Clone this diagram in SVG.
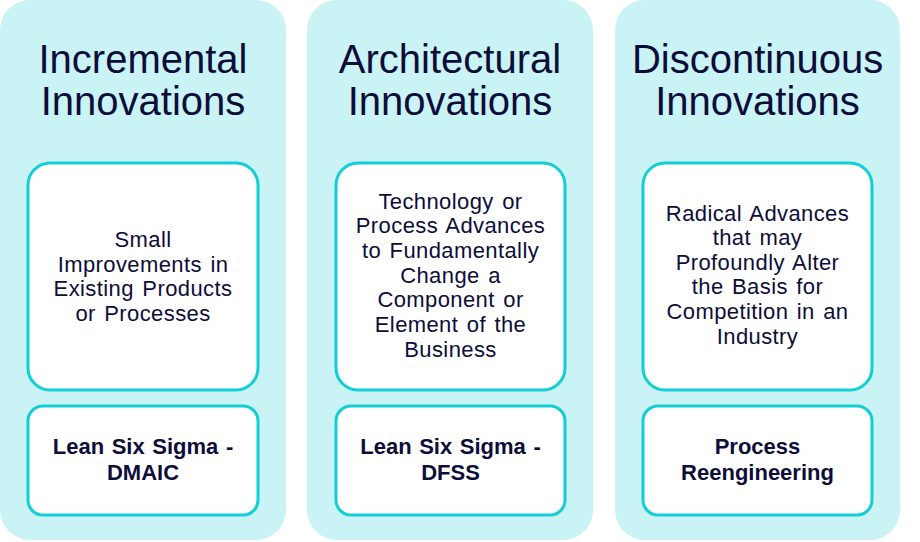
<svg xmlns="http://www.w3.org/2000/svg" width="920" height="542" viewBox="0 0 920 542">
<style>
.panel{fill:#c9f3f5;}
.box{fill:#ffffff;stroke:#12cfd7;stroke-width:3;}
.title{font-family:"Liberation Sans",Arial,sans-serif;font-size:40px;fill:#0d0d3a;text-anchor:middle;}
.body{font-family:"Liberation Sans",Arial,sans-serif;font-size:22px;fill:#0d0d3a;text-anchor:middle;letter-spacing:0.4px;word-spacing:2px;}
.bold{font-family:"Liberation Sans",Arial,sans-serif;font-size:22px;font-weight:bold;fill:#0d0d3a;text-anchor:middle;word-spacing:1.5px;}
</style>
<rect width="920" height="542" fill="#ffffff"/>
<g id="incremental">
<rect class="panel" x="0" y="0" width="286" height="540" rx="30"/>
<text class="title" x="143" y="73">Incremental</text>
<text class="title" x="143" y="115">Innovations</text>
<rect class="box" x="28" y="163" width="230" height="227" rx="22"/>
<text class="body" x="143" y="247">Small</text>
<text class="body" x="143" y="271.5">Improvements in</text>
<text class="body" x="143" y="296">Existing Products</text>
<text class="body" x="143" y="320.5">or Processes</text>
<rect class="box" x="28" y="406" width="230" height="109" rx="15"/>
<text class="bold" x="143" y="454">Lean Six Sigma -</text>
<text class="bold" x="143" y="480">DMAIC</text>
</g>
<g id="architectural">
<rect class="panel" x="307" y="0" width="286" height="540" rx="30"/>
<text class="title" x="450" y="73">Architectural</text>
<text class="title" x="450" y="115">Innovations</text>
<rect class="box" x="336" y="163" width="229" height="227" rx="22"/>
<text class="body" x="450.5" y="208.5">Technology or</text>
<text class="body" x="450.5" y="233.2">Process Advances</text>
<text class="body" x="450.5" y="258">to Fundamentally</text>
<text class="body" x="450.5" y="282.7">Change a</text>
<text class="body" x="450.5" y="307.4">Component or</text>
<text class="body" x="450.5" y="332.1">Element of the</text>
<text class="body" x="450.5" y="356.8">Business</text>
<rect class="box" x="336" y="406" width="229" height="109" rx="15"/>
<text class="bold" x="450.5" y="454">Lean Six Sigma -</text>
<text class="bold" x="450.5" y="480">DFSS</text>
</g>
<g id="discontinuous">
<rect class="panel" x="615" y="0" width="285" height="540" rx="30"/>
<text class="title" x="757.5" y="73">Discontinuous</text>
<text class="title" x="757.5" y="115">Innovations</text>
<rect class="box" x="643" y="163" width="229" height="227" rx="22"/>
<text class="body" x="757.5" y="220.5">Radical Advances</text>
<text class="body" x="757.5" y="245">that may</text>
<text class="body" x="757.5" y="269.7">Profoundly Alter</text>
<text class="body" x="757.5" y="294.4">the Basis for</text>
<text class="body" x="757.5" y="319">Competition in an</text>
<text class="body" x="757.5" y="343.7">Industry</text>
<rect class="box" x="643" y="406" width="229" height="109" rx="15"/>
<text class="bold" x="757.5" y="454">Process</text>
<text class="bold" x="757.5" y="480">Reengineering</text>
</g>
<g id="connectors"></g>
</svg>
